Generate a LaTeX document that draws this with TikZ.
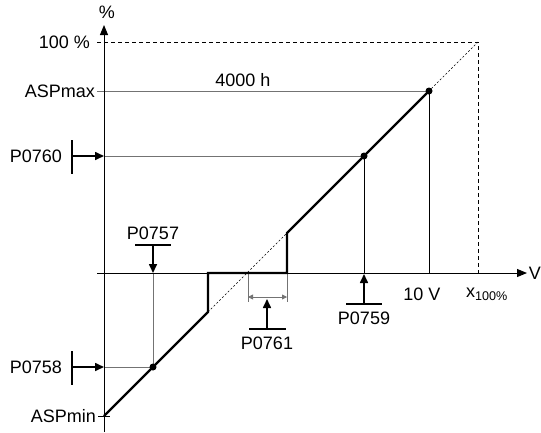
\documentclass[tikz,border=0pt]{standalone}
\usepackage{fontspec}
\setmainfont{Liberation Sans}
\usetikzlibrary{arrows.meta}

\begin{document}
\begin{tikzpicture}[x=1pt,y=-1pt,
  axisline/.style={line width=1pt,-{Triangle[length=10pt,width=8pt]}},
  thinline/.style={line width=0.8pt},
  greyline/.style={line width=0.8pt,draw=black!55},
  limitline/.style={line width=0.8pt,dash pattern=on 4pt off 3pt},
  diagline/.style={line width=0.6pt,dash pattern=on 2pt off 2pt},
  curve/.style={line width=2.2pt,line join=miter},
  parbar/.style={line width=1.6pt},
  pararrow/.style={line width=1.6pt,-{Triangle[length=9pt,width=8pt]}},
  lbl/.style={font=\fontsize{18}{20}\selectfont,inner sep=0pt}]
\useasboundingbox (0,0) rectangle (541,432);
% points of the characteristic
\coordinate (ybot) at (104,432);
\coordinate (ytip) at (104,25);
\coordinate (xbeg) at (97,273);
\coordinate (xtip) at (527,273);
\coordinate (top) at (478,42);
\coordinate (topx) at (478,273);
\coordinate (aspmin) at (104,416);
\coordinate (dlo) at (208,312);
\coordinate (dlox) at (208,273);
\coordinate (dhix) at (287,273);
\coordinate (dhi) at (287,233);
\coordinate (dmax) at (429,91);
\coordinate (dmaxx) at (429,273);
\coordinate (d760) at (364,156);
\coordinate (d760x) at (364,273);
\coordinate (d757) at (153,367);
\coordinate (d757x) at (153,273);
% limits
\draw[limitline] (97,42) -- (top) -- (topx);
\draw[diagline] (dlo) -- (top);
\draw[greyline] (97,91) -- (dmax);
\draw[thinline] (dmax) -- (dmaxx);
\draw[greyline] (104,156) -- (d760);
\draw[thinline] (d760) -- (d760x);
\draw[greyline] (104,367) -- (d757) -- (d757x);
\draw[thinline] (98,416) -- (110,416);
% axes
\draw[axisline] (ybot) -- (ytip);
\draw[axisline] (xbeg) -- (xtip);
% deadband
\draw[greyline] (248,273) -- (248,302);
\draw[greyline] (dhix) -- (287,302);
\draw[greyline,{Triangle[length=5pt,width=5pt]}-{Triangle[length=5pt,width=5pt]}] (248,297) -- (287,297);
% characteristic
\draw[curve] (aspmin) -- (dlo) -- (dlox) -- (dhix) -- (dhi) -- (dmax);
\fill (dmax) circle (3.5pt);
\fill (d760) circle (3.5pt);
\fill (d757) circle (3.5pt);
% parameters
\draw[parbar] (72,140) -- (72,174);
\draw[pararrow] (72,156) -- (104,156);
\draw[parbar] (72,351) -- (72,385);
\draw[pararrow] (72,367) -- (104,367);
\draw[parbar] (135,245) -- (171,245);
\draw[pararrow] (153,245) -- (d757x);
\draw[parbar] (346,304) -- (382,304);
\draw[pararrow] (364,304) -- (364,274);
\draw[parbar] (249,329) -- (286,329);
\draw[pararrow] (267,329) -- (267,299);
% labels
\node[lbl] (pct) at (107,12) {\%};
\node[lbl,anchor=east] (l100) at (90,42) {100 \%};
\node[lbl,anchor=east] (lmax) at (95,91) {ASPmax};
\node[lbl,anchor=east] (lmin) at (96,416) {ASPmin};
\node[lbl,anchor=east] (l760) at (62,156) {P0760};
\node[lbl,anchor=east] (l758) at (62,367) {P0758};
\node[lbl] (l757) at (153,233) {P0757};
\node[lbl] (l759) at (364,318) {P0759};
\node[lbl] (l761) at (267,343) {P0761};
\node[lbl] (lhours) at (243,80) {4000 h};
\node[lbl] (l10v) at (422,294) {10 V};
\node[lbl] (lx100) at (487,294) {x\textsubscript{100\%}};
\node[lbl,anchor=east] (lv) at (541,273) {V};
\end{tikzpicture}
\end{document}
